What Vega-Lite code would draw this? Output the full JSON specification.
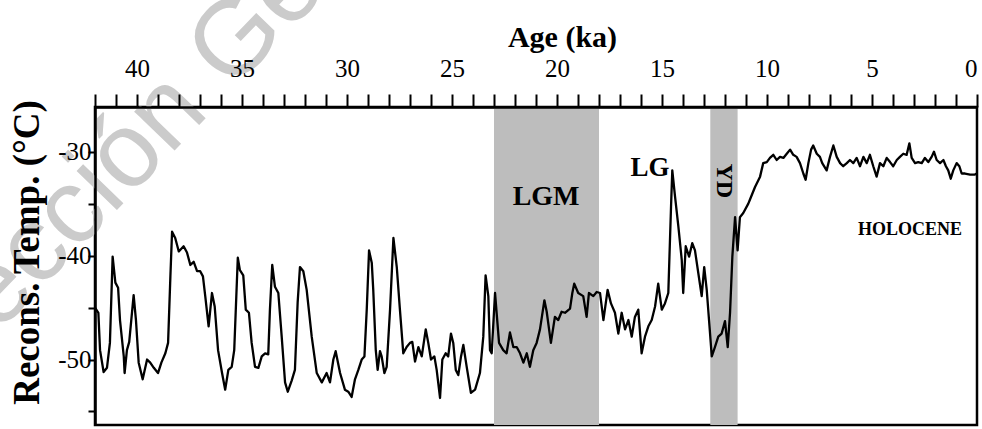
{
  "$schema": "https://vega.github.io/schema/vega-lite/v6.json",
  "width": 882,
  "height": 318,
  "autosize": {"type": "none"},
  "padding": {"left": 95, "top": 107, "right": 5, "bottom": 4},
  "background": "white",
  "config": {
    "view": {"stroke": "black", "strokeWidth": 2.5},
    "font": "Liberation Serif"
  },
  "datasets": {
    "series": [
      {"age": 42.0, "temp": -45.0}, {"age": 41.84, "temp": -45.5}, {"age": 41.76, "temp": -49.1}, {"age": 41.59, "temp": -51.2},
      {"age": 41.43, "temp": -50.8}, {"age": 41.29, "temp": -48.4}, {"age": 41.16, "temp": -40.1}, {"age": 41.03, "temp": -42.6},
      {"age": 40.9, "temp": -43.1}, {"age": 40.81, "temp": -46.2}, {"age": 40.63, "temp": -49.7}, {"age": 40.59, "temp": -51.3},
      {"age": 40.48, "temp": -49.1}, {"age": 40.37, "temp": -48.3}, {"age": 40.16, "temp": -43.8}, {"age": 40.05, "temp": -46.2},
      {"age": 39.92, "temp": -50.3}, {"age": 39.73, "temp": -51.9}, {"age": 39.52, "temp": -50.0}, {"age": 39.37, "temp": -50.3},
      {"age": 39.2, "temp": -50.8}, {"age": 39.0, "temp": -51.3}, {"age": 38.84, "temp": -50.3}, {"age": 38.65, "temp": -49.4},
      {"age": 38.52, "temp": -48.4}, {"age": 38.41, "temp": -42.0}, {"age": 38.33, "temp": -37.7}, {"age": 38.18, "temp": -38.3},
      {"age": 38.01, "temp": -39.6}, {"age": 37.78, "temp": -39.1}, {"age": 37.62, "temp": -39.7}, {"age": 37.46, "temp": -40.9},
      {"age": 37.3, "temp": -40.6}, {"age": 37.14, "temp": -41.5}, {"age": 36.99, "temp": -41.5}, {"age": 36.86, "temp": -42.0},
      {"age": 36.75, "temp": -43.9}, {"age": 36.59, "temp": -46.8}, {"age": 36.43, "temp": -43.6}, {"age": 36.3, "temp": -44.9},
      {"age": 36.14, "temp": -49.1}, {"age": 35.95, "temp": -51.3}, {"age": 35.8, "temp": -52.9}, {"age": 35.65, "temp": -51.0},
      {"age": 35.49, "temp": -50.7}, {"age": 35.37, "temp": -49.1}, {"age": 35.2, "temp": -40.2}, {"age": 35.1, "temp": -41.4},
      {"age": 34.94, "temp": -41.9}, {"age": 34.82, "temp": -45.2}, {"age": 34.67, "temp": -45.5}, {"age": 34.54, "temp": -48.4},
      {"age": 34.38, "temp": -50.7}, {"age": 34.22, "temp": -50.8}, {"age": 34.06, "temp": -49.7}, {"age": 33.9, "temp": -49.4},
      {"age": 33.75, "temp": -49.5}, {"age": 33.67, "temp": -45.2}, {"age": 33.56, "temp": -40.9}, {"age": 33.43, "temp": -43.0},
      {"age": 33.27, "temp": -43.6}, {"age": 33.11, "temp": -47.8}, {"age": 32.95, "temp": -52.2}, {"age": 32.82, "temp": -53.1},
      {"age": 32.63, "temp": -52.0}, {"age": 32.48, "temp": -51.0}, {"age": 32.35, "temp": -44.5}, {"age": 32.24, "temp": -41.1},
      {"age": 32.08, "temp": -41.5}, {"age": 31.92, "temp": -43.3}, {"age": 31.68, "temp": -47.8}, {"age": 31.44, "temp": -51.3},
      {"age": 31.2, "temp": -52.2}, {"age": 30.97, "temp": -51.3}, {"age": 30.81, "temp": -52.2}, {"age": 30.65, "temp": -50.0},
      {"age": 30.54, "temp": -49.2}, {"age": 30.33, "temp": -51.3}, {"age": 30.1, "temp": -52.9}, {"age": 29.94, "temp": -53.1},
      {"age": 29.78, "temp": -53.6}, {"age": 29.62, "temp": -51.9}, {"age": 29.46, "temp": -51.0}, {"age": 29.3, "temp": -50.0},
      {"age": 29.17, "temp": -49.7}, {"age": 29.06, "temp": -45.2}, {"age": 28.95, "temp": -39.5}, {"age": 28.82, "temp": -40.7},
      {"age": 28.75, "temp": -43.3}, {"age": 28.63, "temp": -49.1}, {"age": 28.54, "temp": -51.0}, {"age": 28.43, "temp": -49.2},
      {"age": 28.35, "temp": -49.7}, {"age": 28.22, "temp": -51.3}, {"age": 28.11, "temp": -50.7}, {"age": 27.95, "temp": -45.2},
      {"age": 27.79, "temp": -38.3}, {"age": 27.63, "temp": -41.1}, {"age": 27.48, "temp": -45.2}, {"age": 27.32, "temp": -49.4},
      {"age": 27.16, "temp": -48.8}, {"age": 27.0, "temp": -48.4}, {"age": 26.89, "temp": -48.3}, {"age": 26.76, "temp": -50.2},
      {"age": 26.6, "temp": -48.8}, {"age": 26.44, "temp": -49.7}, {"age": 26.25, "temp": -47.1}, {"age": 26.13, "temp": -48.4},
      {"age": 26.0, "temp": -50.0}, {"age": 25.84, "temp": -49.7}, {"age": 25.73, "temp": -51.0}, {"age": 25.57, "temp": -53.7},
      {"age": 25.46, "temp": -50.0}, {"age": 25.3, "temp": -49.4}, {"age": 25.18, "temp": -49.7}, {"age": 25.05, "temp": -47.5},
      {"age": 24.94, "temp": -48.4}, {"age": 24.82, "temp": -51.0}, {"age": 24.7, "temp": -51.5}, {"age": 24.57, "temp": -49.7},
      {"age": 24.46, "temp": -48.6}, {"age": 24.3, "temp": -50.7}, {"age": 24.1, "temp": -53.2}, {"age": 23.9, "temp": -52.9},
      {"age": 23.67, "temp": -51.3}, {"age": 23.51, "temp": -47.8}, {"age": 23.4, "temp": -41.9}, {"age": 23.27, "temp": -43.9},
      {"age": 23.19, "temp": -49.1}, {"age": 23.11, "temp": -49.4}, {"age": 22.95, "temp": -43.6}, {"age": 22.76, "temp": -48.4},
      {"age": 22.56, "temp": -49.1}, {"age": 22.4, "temp": -49.4}, {"age": 22.24, "temp": -47.4}, {"age": 22.08, "temp": -48.8},
      {"age": 21.92, "temp": -48.8}, {"age": 21.76, "temp": -49.4}, {"age": 21.6, "temp": -50.3}, {"age": 21.44, "temp": -49.4},
      {"age": 21.29, "temp": -50.7}, {"age": 21.13, "temp": -49.1}, {"age": 20.97, "temp": -48.4}, {"age": 20.81, "temp": -47.1},
      {"age": 20.6, "temp": -44.3}, {"age": 20.49, "temp": -45.4}, {"age": 20.29, "temp": -48.4}, {"age": 20.1, "temp": -45.9},
      {"age": 19.94, "temp": -46.2}, {"age": 19.78, "temp": -45.4}, {"age": 19.62, "temp": -45.5}, {"age": 19.38, "temp": -45.1},
      {"age": 19.27, "temp": -43.6}, {"age": 19.18, "temp": -42.7}, {"age": 18.99, "temp": -43.6}, {"age": 18.75, "temp": -43.9},
      {"age": 18.59, "temp": -45.9}, {"age": 18.48, "temp": -43.6}, {"age": 18.27, "temp": -43.9}, {"age": 18.11, "temp": -43.5},
      {"age": 17.95, "temp": -43.6}, {"age": 17.79, "temp": -46.2}, {"age": 17.59, "temp": -43.3}, {"age": 17.43, "temp": -44.6},
      {"age": 17.24, "temp": -45.5}, {"age": 17.08, "temp": -47.5}, {"age": 16.92, "temp": -45.5}, {"age": 16.76, "temp": -47.1},
      {"age": 16.6, "temp": -46.2}, {"age": 16.44, "temp": -47.8}, {"age": 16.29, "temp": -45.9}, {"age": 16.13, "temp": -45.2},
      {"age": 15.97, "temp": -49.4}, {"age": 15.81, "temp": -47.8}, {"age": 15.65, "temp": -46.8}, {"age": 15.49, "temp": -46.2},
      {"age": 15.33, "temp": -44.9}, {"age": 15.18, "temp": -42.7}, {"age": 15.01, "temp": -45.2}, {"age": 14.86, "temp": -44.6},
      {"age": 14.7, "temp": -43.6}, {"age": 14.57, "temp": -35.3}, {"age": 14.51, "temp": -31.8}, {"age": 14.38, "temp": -34.3},
      {"age": 14.22, "temp": -37.2}, {"age": 14.06, "temp": -40.4}, {"age": 13.99, "temp": -43.6}, {"age": 13.87, "temp": -39.1},
      {"age": 13.71, "temp": -40.1}, {"age": 13.56, "temp": -38.8}, {"age": 13.43, "temp": -39.5}, {"age": 13.27, "temp": -41.7},
      {"age": 13.11, "temp": -43.9}, {"age": 12.99, "temp": -41.1}, {"age": 12.87, "temp": -43.3}, {"age": 12.76, "temp": -46.2},
      {"age": 12.63, "temp": -49.7}, {"age": 12.48, "temp": -48.8}, {"age": 12.32, "temp": -47.8}, {"age": 12.16, "temp": -47.5},
      {"age": 12.0, "temp": -46.3}, {"age": 11.87, "temp": -48.8}, {"age": 11.76, "temp": -45.5}, {"age": 11.65, "temp": -40.1},
      {"age": 11.52, "temp": -36.3}, {"age": 11.4, "temp": -39.5}, {"age": 11.29, "temp": -36.3}, {"age": 11.13, "temp": -35.9},
      {"age": 10.89, "temp": -35.0}, {"age": 10.81, "temp": -34.6}, {"age": 10.57, "temp": -33.4}, {"age": 10.33, "temp": -32.4},
      {"age": 10.18, "temp": -31.1}, {"age": 10.01, "temp": -31.0}, {"age": 9.86, "temp": -30.6}, {"age": 9.7, "temp": -30.3},
      {"age": 9.54, "temp": -30.8}, {"age": 9.38, "temp": -30.5}, {"age": 9.22, "temp": -30.6}, {"age": 9.06, "temp": -30.2},
      {"age": 8.9, "temp": -29.8}, {"age": 8.75, "temp": -30.3}, {"age": 8.59, "temp": -30.5}, {"age": 8.43, "temp": -31.1},
      {"age": 8.27, "temp": -32.1}, {"age": 8.16, "temp": -32.7}, {"age": 8.03, "temp": -31.1}, {"age": 7.9, "temp": -29.8},
      {"age": 7.8, "temp": -29.4}, {"age": 7.63, "temp": -30.2}, {"age": 7.48, "temp": -30.5}, {"age": 7.37, "temp": -31.1},
      {"age": 7.16, "temp": -31.8}, {"age": 7.0, "temp": -30.5}, {"age": 6.84, "temp": -29.4}, {"age": 6.68, "temp": -30.5},
      {"age": 6.52, "temp": -31.1}, {"age": 6.37, "temp": -31.4}, {"age": 6.2, "temp": -31.1}, {"age": 6.05, "temp": -30.8},
      {"age": 5.89, "temp": -31.1}, {"age": 5.73, "temp": -30.6}, {"age": 5.57, "temp": -31.4}, {"age": 5.41, "temp": -30.5},
      {"age": 5.25, "temp": -31.1}, {"age": 5.1, "temp": -30.3}, {"age": 4.94, "temp": -31.4}, {"age": 4.78, "temp": -32.4},
      {"age": 4.62, "temp": -31.1}, {"age": 4.46, "temp": -31.4}, {"age": 4.3, "temp": -30.6}, {"age": 4.14, "temp": -31.0},
      {"age": 3.99, "temp": -31.4}, {"age": 3.82, "temp": -30.8}, {"age": 3.67, "temp": -30.5}, {"age": 3.51, "temp": -30.2},
      {"age": 3.35, "temp": -30.3}, {"age": 3.22, "temp": -29.2}, {"age": 3.11, "temp": -30.6}, {"age": 2.95, "temp": -31.1},
      {"age": 2.8, "temp": -31.0}, {"age": 2.63, "temp": -31.1}, {"age": 2.48, "temp": -30.6}, {"age": 2.32, "temp": -31.0},
      {"age": 2.16, "temp": -30.5}, {"age": 2.05, "temp": -30.0}, {"age": 1.92, "temp": -30.8}, {"age": 1.76, "temp": -31.1},
      {"age": 1.6, "temp": -30.8}, {"age": 1.48, "temp": -31.4}, {"age": 1.37, "temp": -31.8}, {"age": 1.25, "temp": -32.6},
      {"age": 1.13, "temp": -31.8}, {"age": 0.97, "temp": -31.1}, {"age": 0.84, "temp": -31.4}, {"age": 0.73, "temp": -32.1},
      {"age": 0.57, "temp": -32.1}, {"age": 0.33, "temp": -32.2}, {"age": 0.1, "temp": -32.2}, {"age": 0.01, "temp": -32.1}
    ],
    "bands": [
      {"start": 23.0, "end": 18.0, "period": "LGM"},
      {"start": 12.7, "end": 11.4, "period": "YD"}
    ]
  },
  "layer": [
    {
      "data": {"values": [{"age": 41.38, "temp": -36.5, "text": "Colección Ge"}]},
      "mark": {"type": "text", "font": "Liberation Sans", "fontSize": 106, "angle": -46, "align": "center", "baseline": "alphabetic", "color": "#cbcbcb"},
      "encoding": {
        "x": {"field": "age", "type": "quantitative", "title": "Age (ka)"},
        "y": {"field": "temp", "type": "quantitative", "title": "Recons. Temp. (°C)"},
        "text": {"field": "text"}
      }
    },
    {
      "data": {"name": "bands"},
      "mark": {"type": "rect", "color": "#bdbdbd"},
      "encoding": {
        "x": {"field": "start", "type": "quantitative", "title": "Age (ka)"},
        "x2": {"field": "end"}
      }
    },
    {
      "data": {"name": "series"},
      "mark": {"type": "line", "color": "black", "strokeWidth": 2.3, "strokeJoin": "round"},
      "encoding": {
        "x": {
          "field": "age", "type": "quantitative",
          "scale": {"domain": [0, 42], "reverse": true, "nice": false, "zero": false},
          "axis": {
            "orient": "top",
            "zindex": 1,
            "tickCount": 42,
            "labelExpr": "datum.value % 5 === 0 ? '' + datum.value : ''",
            "labelOverlap": false,
            "labelFont": "Liberation Serif",
            "labelFontSize": 25,
            "labelColor": "black",
            "labelPadding": 13,
            "ticks": true,
            "tickSize": 13,
            "tickWidth": 2,
            "tickColor": "black",
            "encode": {"ticks": {"update": {"y2": {"signal": "datum.value % 5 === 0 ? -13 : -8"}}}},
            "domainColor": "black",
            "domainWidth": 2.5,
            "grid": false,
            "title": "Age (ka)",
            "titleFont": "Liberation Serif",
            "titleFontSize": 30,
            "titleFontWeight": "bold",
            "titleColor": "black",
            "titleX": 467,
            "titleY": -70,
            "titleBaseline": "middle",
            "titleAlign": "center"
          }
        },
        "y": {
          "field": "temp", "type": "quantitative",
          "scale": {"domain": [-56.3, -25.7], "nice": false, "zero": false},
          "axis": {
            "zindex": 1,
            "values": [-55, -50, -45, -40, -35, -30],
            "labelExpr": "datum.value % 10 === 0 ? '-' + abs(datum.value) : ''",
            "labelOverlap": false,
            "labelFont": "Liberation Serif",
            "labelFontSize": 25,
            "labelColor": "black",
            "labelPadding": -3,
            "tickSize": 7,
            "tickWidth": 2,
            "tickColor": "black",
            "domainColor": "black",
            "domainWidth": 2.5,
            "grid": false,
            "title": "Recons. Temp. (°C)",
            "titleFont": "Liberation Serif",
            "titleFontSize": 37,
            "titleFontWeight": "bold",
            "titleColor": "black",
            "titleAngle": -90,
            "titleX": -68,
            "titleY": 145,
            "titleBaseline": "middle",
            "titleAlign": "center"
          }
        }
      }
    },
    {
      "data": {"values": [{"age": 20.52, "temp": -34.4, "label": "LGM"}]},
      "mark": {"type": "text", "font": "Liberation Serif", "fontWeight": "bold", "fontSize": 28, "color": "black", "align": "center", "baseline": "middle"},
      "encoding": {
        "x": {"field": "age", "type": "quantitative", "title": "Age (ka)"},
        "y": {"field": "temp", "type": "quantitative", "title": "Recons. Temp. (°C)"},
        "text": {"field": "label"}
      }
    },
    {
      "data": {"values": [{"age": 15.57, "temp": -31.6, "label": "LG"}]},
      "mark": {"type": "text", "font": "Liberation Serif", "fontWeight": "bold", "fontSize": 27, "color": "black", "align": "center", "baseline": "middle"},
      "encoding": {
        "x": {"field": "age", "type": "quantitative", "title": "Age (ka)"},
        "y": {"field": "temp", "type": "quantitative", "title": "Recons. Temp. (°C)"},
        "text": {"field": "label"}
      }
    },
    {
      "data": {"values": [{"age": 12.05, "temp": -32.8, "label": "YD"}]},
      "mark": {"type": "text", "font": "Liberation Serif", "fontWeight": "bold", "fontSize": 24, "color": "black", "align": "center", "baseline": "middle", "angle": 90},
      "encoding": {
        "x": {"field": "age", "type": "quantitative", "title": "Age (ka)"},
        "y": {"field": "temp", "type": "quantitative", "title": "Recons. Temp. (°C)"},
        "text": {"field": "label"}
      }
    },
    {
      "data": {"values": [{"age": 3.19, "temp": -37.5, "label": "HOLOCENE"}]},
      "mark": {"type": "text", "font": "Liberation Serif", "fontWeight": "bold", "fontSize": 18, "color": "black", "align": "center", "baseline": "middle"},
      "encoding": {
        "x": {"field": "age", "type": "quantitative", "title": "Age (ka)"},
        "y": {"field": "temp", "type": "quantitative", "title": "Recons. Temp. (°C)"},
        "text": {"field": "label"}
      }
    }
  ]
}
